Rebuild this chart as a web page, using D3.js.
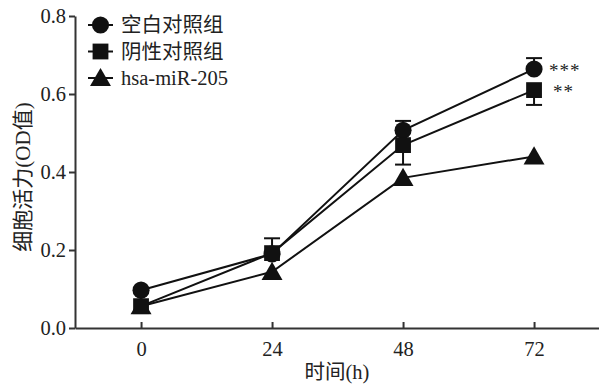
<!DOCTYPE html>
<html>
<head>
<meta charset="utf-8">
<script src="https://cdn.jsdelivr.net/npm/d3@7"></script>
<style>
  body { margin: 0; background: #fff; }
  text { font-family: "Liberation Serif", "Noto Sans CJK SC", serif; fill: #222; }
</style>
</head>
<body>
<svg id="chart" width="599" height="387"></svg>
<script>
const hours = [0, 24, 48, 72];
const seriesNames = ["空白对照组", "阴性对照组", "hsa-miR-205"];
const blankMeans = [0.097, 0.19, 0.507, 0.664];
const blankErr = [0, 0.04, 0.024, 0.028];
const negMeans = [0.056, 0.192, 0.469, 0.61];
const negErr = [0, 0, 0.05, 0.038];
const mirMeans = [0.056, 0.144, 0.385, 0.44];
const yTicks = [0.0, 0.2, 0.4, 0.6, 0.8];
const marks = ["***", "**"];

const width = 599, height = 387;
const margin = { top: 16, right: 0, bottom: 59, left: 75 };
const svg = d3.select("#chart");

const x = d3.scaleLinear().domain([-12.1, 83.9]).range([margin.left, width - margin.right]);
const y = d3.scaleLinear().domain([0, 0.8]).range([height - margin.bottom, margin.top]);

const series = [
  { name: seriesNames[0], means: blankMeans, err: blankErr, dir: -1, shape: d3.symbolCircle, size: 230 },
  { name: seriesNames[1], means: negMeans, err: negErr, dir: 1, shape: d3.symbolSquare, size: 250 },
  { name: seriesNames[2], means: mirMeans, err: null, dir: 0, shape: d3.symbolTriangle, size: 190 }
];

// axes
const yAxis = svg.append("g")
  .attr("transform", `translate(${margin.left},0)`)
  .call(d3.axisLeft(y).tickValues(yTicks).tickFormat(d3.format(".1f")).tickSize(6).tickSizeOuter(0));
const xAxis = svg.append("g")
  .attr("transform", `translate(0,${height - margin.bottom})`)
  .call(d3.axisBottom(x).tickValues(hours).tickSize(-6).tickSizeOuter(0));
[yAxis, xAxis].forEach(g => {
  g.selectAll(".domain").attr("stroke", "#333").attr("stroke-width", 2);
  g.selectAll(".tick line").attr("stroke", "#333").attr("stroke-width", 2);
  g.selectAll(".tick text").attr("font-size", 20.5).attr("fill", "#222");
});
yAxis.selectAll(".tick text").attr("x", -9);
xAxis.selectAll(".tick text").attr("y", 13);

// axis titles
svg.append("text")
  .attr("transform", `translate(30,${(margin.top + height - margin.bottom) / 2 + 5}) rotate(-90)`)
  .attr("text-anchor", "middle")
  .attr("font-size", 21)
  .text("细胞活力(OD值)");
svg.append("text")
  .attr("x", (margin.left + width) / 2)
  .attr("y", 379)
  .attr("text-anchor", "middle")
  .attr("font-size", 20.5)
  .text("时间(h)");

const line = d3.line().x((d, i) => x(hours[i])).y(d => y(d));

// draw triangle series first so squares sit on top
const drawOrder = [series[2], series[0], series[1]];
drawOrder.forEach(s => {
  const g = svg.append("g");
  g.append("path")
    .attr("d", line(s.means))
    .attr("fill", "none")
    .attr("stroke", "#111")
    .attr("stroke-width", 2);
  if (s.err) {
    s.means.forEach((m, i) => {
      if (!s.err[i]) return;
      const yEnd = y(m + s.dir * -1 * s.err[i]);
      g.append("line")
        .attr("x1", x(hours[i])).attr("x2", x(hours[i]))
        .attr("y1", y(m)).attr("y2", yEnd)
        .attr("stroke", "#111").attr("stroke-width", 2);
      g.append("line")
        .attr("x1", x(hours[i]) - 8).attr("x2", x(hours[i]) + 8)
        .attr("y1", yEnd).attr("y2", yEnd)
        .attr("stroke", "#111").attr("stroke-width", 2);
    });
  }
  g.selectAll("path.pt")
    .data(s.means)
    .join("path")
    .attr("class", "pt")
    .attr("transform", (d, i) => `translate(${x(hours[i])},${y(d) + (s.shape === d3.symbolTriangle ? 2 : 0)})`)
    .attr("d", d3.symbol().type(s.shape).size(s.size))
    .attr("fill", "#111");
});

// significance marks
[blankMeans, negMeans].forEach((means, i) => {
  svg.append("text")
    .attr("x", x(72) + (i === 0 ? 15 : 19))
    .attr("y", y(means[3]) + 8)
    .attr("font-size", 19)
    .attr("letter-spacing", 1)
    .text(marks[i]);
});

// legend
const legend = svg.append("g");
series.forEach((s, i) => {
  const ly = 25 + i * 26.5;
  legend.append("line")
    .attr("x1", 88).attr("x2", 113)
    .attr("y1", ly).attr("y2", ly)
    .attr("stroke", "#111").attr("stroke-width", 2);
  legend.append("path")
    .attr("transform", `translate(100.5,${ly + (s.shape === d3.symbolTriangle ? 2 : 0)})`)
    .attr("d", d3.symbol().type(s.shape).size(s.size))
    .attr("fill", "#111");
  legend.append("text")
    .attr("x", 121)
    .attr("y", ly + 7)
    .attr("font-size", 20.5)
    .text(s.name);
});
</script>
</body>
</html>
